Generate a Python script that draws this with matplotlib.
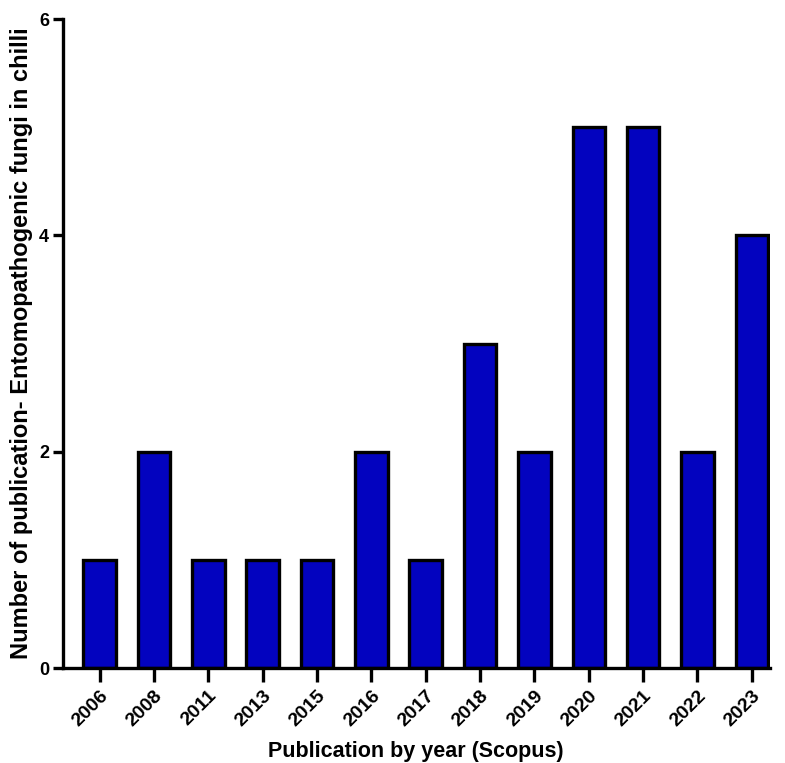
import matplotlib
matplotlib.use("Agg")
import matplotlib.pyplot as plt

years = ["2006", "2008", "2011", "2013", "2015", "2016", "2017", "2018", "2019", "2020", "2021", "2022", "2023"]
counts = [1, 2, 1, 1, 1, 2, 1, 3, 2, 5, 5, 2, 4]
yticks = [0, 2, 4, 6]

plt.rcParams['font.family'] = ['Liberation Sans', 'DejaVu Sans']

fig = plt.figure(figsize=(7.85, 7.63), dpi=100)
ax = fig.add_axes([0.080, 0.1245, 0.9006, 0.8505])
x = list(range(len(years)))
ax.bar(x, counts, width=0.6, color='#0303BF', edgecolor='black', linewidth=2.4, zorder=2)
ax.set_xlim(-0.68, 12.33)
ax.set_ylim(0, 6)
ax.set_yticks(yticks)
ax.set_yticklabels([str(v) for v in yticks], fontsize=13, fontweight='bold')
ax.set_xticks(x)
ax.set_xticklabels(years, rotation=45, ha='right', rotation_mode='anchor', fontsize=14, fontweight='bold')
for s in ['top', 'right']:
    ax.spines[s].set_visible(False)
for s in ['left', 'bottom']:
    ax.spines[s].set_linewidth(2.4)
ax.tick_params(axis='y', width=2.4, length=7, pad=3)
ax.tick_params(axis='x', width=2.4, length=10, pad=4)
ax.set_xlabel("Publication by year (Scopus)", fontsize=15.5, fontweight='bold', labelpad=8)
ax.set_ylabel("Number of publication- Entomopathogenic fungi in chilli", fontsize=17, fontweight='bold', labelpad=4)
fig.savefig("out.png", dpi=100)
